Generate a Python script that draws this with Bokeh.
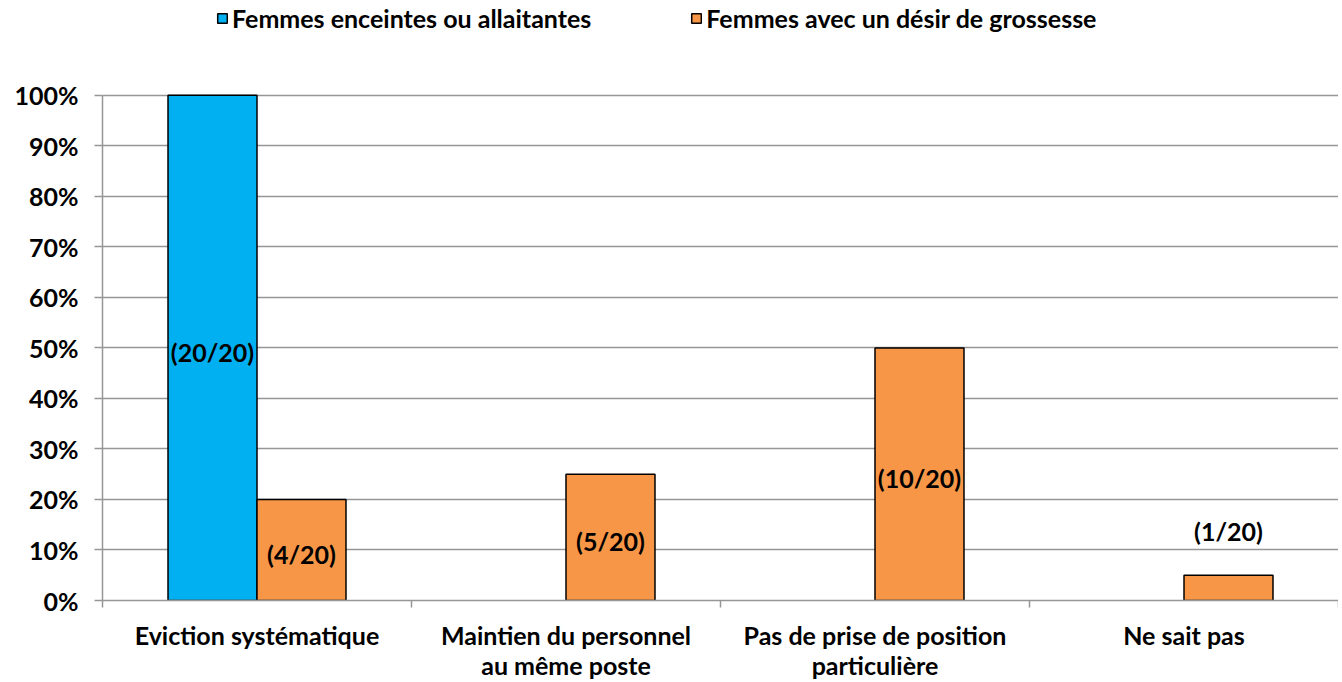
from bokeh.plotting import figure
from bokeh.models import (ColumnDataSource, FixedTicker, Legend, LegendItem,
                          LabelSet, Range1d)
from bokeh.core.properties import value
from bokeh.embed import file_html
from bokeh.resources import INLINE

# ---------------- data ----------------
categories = ["Eviction systématique",
              "Maintien du personnel\nau même poste",
              "Pas de prise de position\nparticulière",
              "Ne sait pas"]
series_names = ["Femmes enceintes ou allaitantes",
                "Femmes avec un désir de grossesse"]
enceintes = [1.00, 0.0, 0.0, 0.0]
desir = [0.20, 0.25, 0.50, 0.05]
labels_enceintes = ["(20/20)", "", "", ""]
labels_desir = ["(4/20)", "(5/20)", "(10/20)", "(1/20)"]
y_ticks = [0.0, 0.1, 0.2, 0.3, 0.4, 0.5, 0.6, 0.7, 0.8, 0.9, 1.0]
y_tick_labels = ["0%", "10%", "20%", "30%", "40%", "50%", "60%", "70%", "80%", "90%", "100%"]

# ---------------- style / layout ----------------
BLUE = "#00B0F0"
ORANGE = "#F79646"
GRID = "#969696"
FONT = "Lato"
BAR_W = 0.288
OFFSET = 0.144
W, H = 1338, 682
FRAME_TOP = 0        # px (frame extends up to hold the legend)
Y100_PX = 95         # px position of 100 %
Y0_PX = 601          # px position of 0 %
Y_END = (Y0_PX - FRAME_TOP) / (Y0_PX - Y100_PX)

n = len(categories)
centers = [i + 0.5 for i in range(n)]

def bars(vals, labels, dx):
    xs, tops, lx, ly, lt = [], [], [], [], []
    for c, v, t in zip(centers, vals, labels):
        if v > 0:
            xs.append(c + dx)
            tops.append(v)
        if t:
            lx.append(c + dx)
            ly.append(v / 2 if v >= 0.2 else v + 0.095)
            lt.append(t)
    return (ColumnDataSource(dict(x=xs, top=tops)),
            ColumnDataSource(dict(x=lx, y=ly, text=lt)))

src_b, lab_b = bars(enceintes, labels_enceintes, -OFFSET)
src_o, lab_o = bars(desir, labels_desir, OFFSET)

p = figure(width=W, height=H, output_backend="svg", toolbar_location=None,
           x_range=Range1d(0, n), y_range=Range1d(0, Y_END),
           min_border_left=102, min_border_right=0, min_border_top=FRAME_TOP,
           min_border_bottom=H - Y0_PX)
p.outline_line_color = None
p.background_fill_color = "white"

r1 = p.vbar(x="x", top="top", width=BAR_W, source=src_b, fill_color=BLUE,
            line_color="black", line_width=1.5)
r2 = p.vbar(x="x", top="top", width=BAR_W, source=src_o, fill_color=ORANGE,
            line_color="black", line_width=1.5)

for lab in (lab_b, lab_o):
    p.add_layout(LabelSet(x="x", y="y", text="text", source=lab,
                          text_align="center", text_baseline="middle",
                          y_offset=-4,
                          text_font=value(FONT), text_font_style="bold",
                          text_font_size="25px", text_color="black"))

# y axis
p.yaxis.ticker = FixedTicker(ticks=y_ticks)
p.yaxis.bounds = (0, 1)
p.yaxis.major_label_overrides = {t: l for t, l in zip(y_ticks, y_tick_labels)}
p.yaxis.axis_line_color = GRID
p.yaxis.axis_line_width = 1.5
p.yaxis.major_tick_line_color = GRID
p.yaxis.major_tick_line_width = 1.5
p.yaxis.major_tick_out = 8
p.yaxis.major_tick_in = 0
p.yaxis.minor_tick_line_color = None
p.yaxis.major_label_standoff = 16
p.yaxis.major_label_text_font = FONT
p.yaxis.major_label_text_font_style = "bold"
p.yaxis.major_label_text_font_size = "25px"
p.yaxis.major_label_text_color = "black"

# x axis
p.xaxis.ticker = FixedTicker(ticks=centers, minor_ticks=list(range(n + 1)))
p.xaxis.major_label_overrides = {c: l for c, l in zip(centers, categories)}
p.xaxis.axis_line_color = GRID
p.xaxis.axis_line_width = 1.5
p.xaxis.major_tick_line_color = None
p.xaxis.minor_tick_line_color = GRID
p.xaxis.minor_tick_line_width = 1.5
p.xaxis.minor_tick_out = 7
p.xaxis.minor_tick_in = 0
p.xaxis.major_label_standoff = 12
p.xaxis.major_label_text_font = FONT
p.xaxis.major_label_text_font_style = "bold"
p.xaxis.major_label_text_font_size = "25px"
p.xaxis.major_label_text_color = "black"
p.xaxis.major_label_text_line_height = 1.0

p.xgrid.grid_line_color = None
p.ygrid.ticker = FixedTicker(ticks=y_ticks)
p.ygrid.grid_line_color = GRID
p.ygrid.grid_line_width = 1.5

legend = Legend(items=[LegendItem(label=series_names[0], renderers=[r1]),
                       LegendItem(label=series_names[1], renderers=[r2])],
                orientation="horizontal", location=(114, Y0_PX - 34),
                glyph_width=12, glyph_height=12, label_standoff=4, spacing=99,
                padding=0, margin=0, border_line_color=None,
                background_fill_alpha=0,
                label_text_font=FONT, label_text_font_style="bold",
                label_text_font_size="25px", label_text_color="black",
                label_height=28)
p.add_layout(legend, "center")

open("out.html", "w").write(file_html(p, INLINE))
